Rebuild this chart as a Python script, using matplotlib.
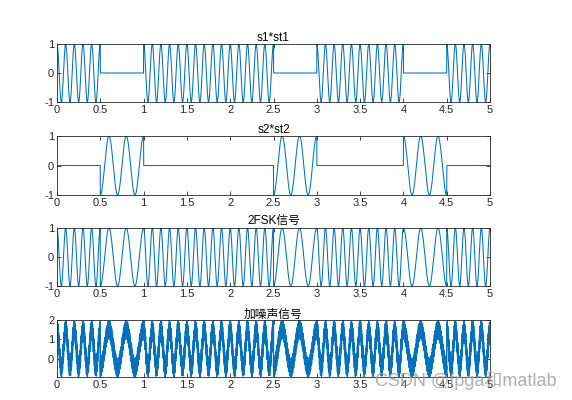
import numpy as np
import matplotlib
matplotlib.use("Agg")
import matplotlib.pyplot as plt

plt.rcParams['font.family'] = ['Liberation Sans', 'Noto Sans CJK SC', 'DejaVu Sans']
plt.rcParams['axes.unicode_minus'] = False

# bit sequence (one bit every 0.5 s) and carrier frequencies
bits = [1, 0, 1, 1, 1, 0, 1, 1, 0, 1]
f1 = 10
f2 = 5
n_samples = 5000
t_end = 5

# additive noise values (0..1), repeated over the signal
noise_pattern = [0.81, 0.12, 0.57, 0.93, 0.34, 0.66, 0.05, 0.48, 0.77, 0.21, 0.99, 0.40,
                 0.62, 0.15, 0.88, 0.29, 0.53, 0.71, 0.04, 0.95, 0.37, 0.84, 0.18]

titles = ['s1*st1', 's2*st2', '2FSK信号', '加噪声信号']

t = np.linspace(0, t_end, n_samples)
per_bit = n_samples // len(bits)
st1 = np.repeat(bits, per_bit).astype(float)
st2 = 1 - st1
s1 = np.cos(2 * np.pi * f1 * t)
s2 = np.cos(2 * np.pi * f2 * t)
F1 = st1 * s1
F2 = st2 * s2
e_fsk = F1 + F2
noise = np.resize(noise_pattern, n_samples)
e_noisy = e_fsk + noise

color = '#0072BD'
fig = plt.figure(figsize=(5.72, 4.0), dpi=100)

left, width = 57 / 572, 433 / 572
boxes = [(44, 102), (136, 195), (228, 286), (320, 377)]
series = [F1, F2, e_fsk, e_noisy]
lw = [0.75, 0.75, 0.75, 1.0]

for k, (top, bot) in enumerate(boxes):
    ax = fig.add_axes([left, 1 - bot / 400, width, (bot - top) / 400])
    ax.plot(t, series[k], color=color, linewidth=lw[k])
    ax.set_xlim(0, 5)
    ax.set_xticks(np.arange(0, 5.01, 0.5))
    ax.set_xticklabels(['0', '0.5', '1', '1.5', '2', '2.5', '3', '3.5', '4', '4.5', '5'])
    if k < 3:
        ax.set_ylim(-1, 1)
        ax.set_yticks([-1, 0, 1])
    else:
        ax.set_ylim(-0.96, 2)
        ax.set_yticks([0, 1, 2])
    ax.set_title(titles[k], fontsize=8.5, pad=2)
    ax.tick_params(direction='in', length=3, width=0.6, labelsize=8, pad=2,
                   top=True, right=True, colors='#262626')
    for sp in ax.spines.values():
        sp.set_linewidth(0.6)
        sp.set_color('#262626')

fig.text(0.655, 0.048, 'CSDN @fpga和matlab', fontsize=13, color='#9a9a9a',
         alpha=0.8, va='center', ha='left')

fig.savefig('out.png', dpi=100)
